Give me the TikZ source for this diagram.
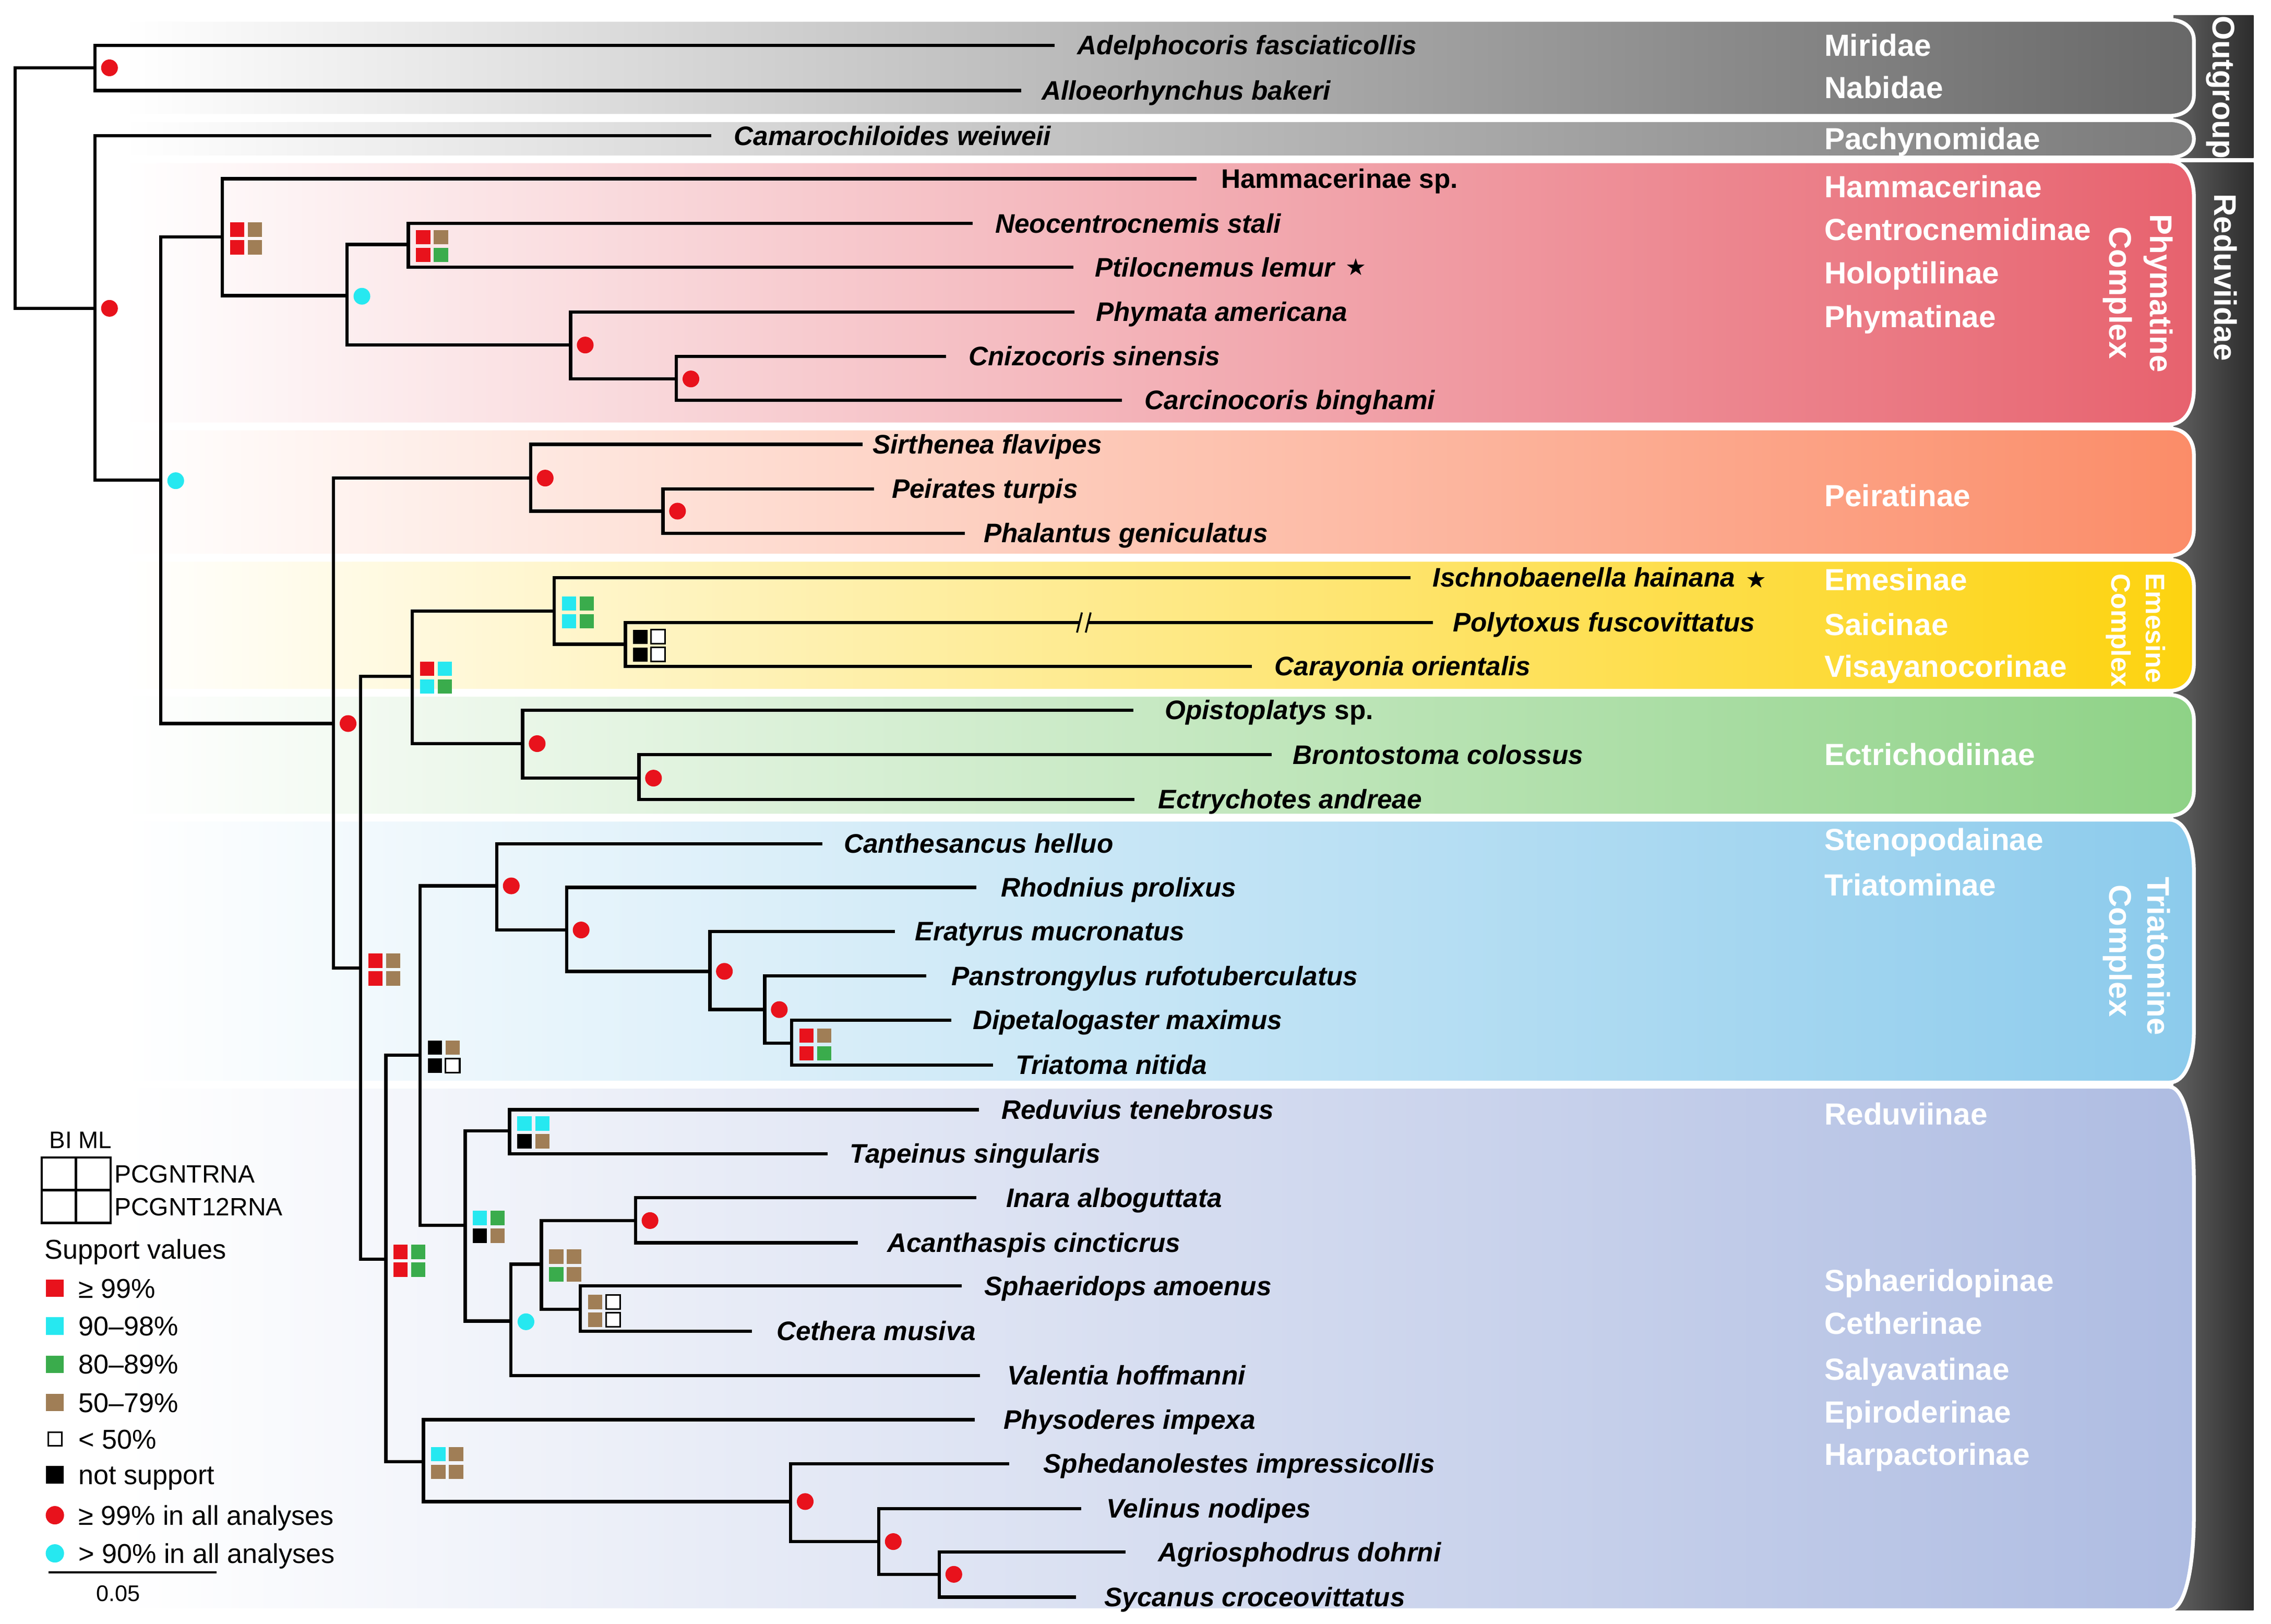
\documentclass[tikz,border=0pt]{standalone}
\usepackage{fontspec}
\setmainfont{Liberation Sans}
\newfontfamily\dejavu{DejaVu Sans}
\usetikzlibrary{calc}
\definecolor{sred}{RGB}{232,18,28}
\definecolor{scyan}{RGB}{38,232,240}
\definecolor{sgreen}{RGB}{58,172,76}
\definecolor{sbrown}{RGB}{160,126,86}
\definecolor{gOut}{RGB}{104,104,104}
\definecolor{gPac}{RGB}{122,122,122}
\definecolor{gPhy}{RGB}{231,98,110}
\definecolor{gPei}{RGB}{251,140,104}
\definecolor{gEme}{RGB}{253,211,15}
\definecolor{gEct}{RGB}{142,210,134}
\definecolor{gTri}{RGB}{140,203,236}
\definecolor{gRed}{RGB}{174,188,226}
\definecolor{barL}{RGB}{96,96,96}
\definecolor{barR}{RGB}{44,44,44}
\tikzset{
  brn/.style={line width=2.3pt, line join=miter, draw=black},
  taxon/.style={anchor=base west, inner sep=0pt, yshift=-6.4pt, font=\fontsize{18.4}{20}\selectfont\bfseries\itshape},
  taxup/.style={anchor=base west, inner sep=0pt, yshift=-6.4pt, font=\fontsize{18.4}{20}\selectfont\bfseries},
  grp/.style={anchor=base west, inner sep=0pt, yshift=-7.5pt, text=white, font=\fontsize{21}{24}\selectfont\bfseries},
  sidelab/.style={anchor=base, inner sep=0pt, rotate=-90, text=white, font=\fontsize{21.5}{24}\selectfont\bfseries},
  sidesmall/.style={sidelab, font=\fontsize{18.4}{20}\selectfont\bfseries},
  rdot/.style={circle, fill=sred, minimum size=11.5pt, inner sep=0pt},
  cdot/.style={circle, fill=scyan, minimum size=11.5pt, inner sep=0pt},
  starsym/.style={inner sep=0pt, font=\dejavu\fontsize{16}{16}\selectfont},
  legtxt/.style={anchor=base west, inner sep=0pt, yshift=-6.7pt, font=\fontsize{18.7}{20}\selectfont},
  legsm/.style={anchor=base west, inner sep=0pt, yshift=-6.1pt, font=\fontsize{17.2}{19}\selectfont},
  sR/.style={fill=sred}, sC/.style={fill=scyan}, sG/.style={fill=sgreen},
  sB/.style={fill=sbrown}, sK/.style={fill=black},
  sW/.style={fill=white, draw=black, line width=1.1pt},
}
\newcommand\band[4]{%
  \shadedraw[draw=white, line width=2.6pt, left color=white, right color=#4]
   (85,#1) -- (1490,#1) .. controls (1501,#1) and (1507,#1+0.45*#3) .. (1507,#1+#3)
   -- (1507,#2-#3) .. controls (1507,#2-0.45*#3) and (1501,#2) .. (1490,#2) -- (85,#2) -- cycle;
}
\newcommand\supp[5]{%
  \path[#2] ($(#1)+(5.3,-10)$) rectangle ++(9.8,9.8);
  \path[#3] ($(#1)+(17.5,-10)$) rectangle ++(9.8,9.8);
  \path[#4] ($(#1)+(5.3,2.2)$) rectangle ++(9.8,9.8);
  \path[#5] ($(#1)+(17.5,2.2)$) rectangle ++(9.8,9.8);
}
\begin{document}
\begin{tikzpicture}[x=1pt,y=-1pt]
\useasboundingbox (0,0) rectangle (1560,1115.5);
\fill[white] (0,0) rectangle (1560,1115.5);
% dark side bars
\shade[left color=barL, right color=barR] (1493,10.7) rectangle (1548,108.5);
\shade[left color=barL, right color=barR] (1493,111.7) rectangle (1548,1106);
% bands
\band{13.6}{79.6}{14}{gOut}
\band{82.5}{108.2}{12.8}{gPac}
\band{110.8}{291.5}{24}{gPhy}
\band{294.3}{381.7}{18}{gPei}
\band{384.5}{474.5}{18}{gEme}
\band{477.3}{560.3}{17}{gEct}
\band{563}{743.6}{35}{gTri}
\band{746.5}{1106}{65}{gRed}
% side labels
\node[sidelab] (sOut) at (1520,60) {Outgroup};
\node[sidelab] (sRed) at (1521,190.5) {Reduviidae};
\node[sidelab] (sPhy1) at (1477,201.5) {Phymatine};
\node[sidelab] (sPhy2) at (1449,201) {Complex};
\node[sidesmall] (sEme1) at (1474,431.5) {Emesine};
\node[sidesmall] (sEme2) at (1450.6,433) {Complex};
\node[sidelab] (sTri1) at (1475.3,656.8) {Triatomine};
\node[sidelab] (sTri2) at (1449,653) {Complex};
% group labels
\node[grp] (gMir) at (1253,31.1) {Miridae};
\node[grp] (gNab) at (1253,60.2) {Nabidae};
\node[grp] (gPa) at (1253,95.2) {Pachynomidae};
\node[grp] (gHam) at (1253,128.2) {Hammacerinae};
\node[grp] (gCen) at (1253,157.4) {Centrocnemidinae};
\node[grp] (gHol) at (1253,187.5) {Holoptilinae};
\node[grp] (gPhm) at (1253,217.6) {Phymatinae};
\node[grp] (gPe) at (1253,340.3) {Peiratinae};
\node[grp] (gEm) at (1253,398.2) {Emesinae};
\node[grp] (gSai) at (1253,428.8) {Saicinae};
\node[grp] (gVis) at (1253,457.6) {Visayanocorinae};
\node[grp] (gEc) at (1253,518) {Ectrichodiinae};
\node[grp] (gSte) at (1253,576.5) {Stenopodainae};
\node[grp] (gTr) at (1253,607.8) {Triatominae};
\node[grp] (gRe) at (1253,765.2) {Reduviinae};
\node[grp] (gSph) at (1253,879.5) {Sphaeridopinae};
\node[grp] (gCet) at (1253,908.8) {Cetherinae};
\node[grp] (gSal) at (1253,940.6) {Salyavatinae};
\node[grp] (gEpi) at (1253,969.8) {Epiroderinae};
\node[grp] (gHar) at (1253,999) {Harpactorinae};
% internal nodes
\coordinate (root) at (10.3,129);
\coordinate (Nout) at (65.2,46.6);
\coordinate (NA) at (65.2,211.8);
\coordinate (NRed) at (110.4,329.7);
\coordinate (NPhy) at (152.6,162.8);
\coordinate (Nb) at (238.3,203);
\coordinate (Nc) at (280.5,168);
\coordinate (Nd) at (392,237);
\coordinate (Ne) at (464.6,260.3);
\coordinate (Nf) at (229.1,497);
\coordinate (NPei) at (364.5,328.4);
\coordinate (Ng) at (455.4,351.1);
\coordinate (Nh) at (247.6,665);
\coordinate (Ni) at (283.2,464.5);
\coordinate (NEme) at (380.6,419.7);
\coordinate (Nj) at (429.6,442.5);
\coordinate (NEct) at (359,510.8);
\coordinate (Nk) at (438.9,534.5);
\coordinate (Nl) at (265,865);
\coordinate (Nm) at (288.5,724.8);
\coordinate (NTri) at (341.2,608.5);
\coordinate (Nn) at (389.2,638.8);
\coordinate (No) at (487.6,667.2);
\coordinate (Np) at (525.3,693.5);
\coordinate (Nq) at (543.8,716.5);
\coordinate (Nr) at (319.5,841.7);
\coordinate (NRd) at (350.1,776.8);
\coordinate (Ns) at (351,907.4);
\coordinate (Nt) at (371.9,868.3);
\coordinate (Nu) at (436.5,838.4);
\coordinate (Nv) at (398.7,899.4);
\coordinate (NHar) at (290.9,1004);
\coordinate (Nw) at (543.1,1031.4);
\coordinate (Nx) at (603.6,1058.9);
\coordinate (Ny) at (645.2,1081.4);
% tips
\coordinate (tAde) at (724.5,31.1);
\coordinate (tAll) at (701.6,62.2);
\coordinate (tCam) at (488.6,93.3);
\coordinate (tHam) at (822,122.8);
\coordinate (tNeo) at (668,153.5);
\coordinate (tPti) at (737.5,183.6);
\coordinate (tPhy) at (738.2,214.3);
\coordinate (tCni) at (650,244.8);
\coordinate (tCar) at (770.8,274.9);
\coordinate (tSir) at (592.5,305.2);
\coordinate (tPei) at (600.4,335.9);
\coordinate (tPha) at (662.8,366.3);
\coordinate (tIsc) at (969,396.8);
\coordinate (pb1) at (741.5,427.6);
\coordinate (pb2) at (747.5,427.6);
\coordinate (tPol) at (984.4,427.6);
\coordinate (tCay) at (860,457.7);
\coordinate (tOpi) at (778.7,487.8);
\coordinate (tBro) at (873.7,518.4);
\coordinate (tEct) at (779.4,549.2);
\coordinate (tCan) at (565,579.6);
\coordinate (tRho) at (670.6,609.6);
\coordinate (tEra) at (614.8,639.8);
\coordinate (tPan) at (636.4,670.4);
\coordinate (tDip) at (653.4,700.8);
\coordinate (tTri) at (682.3,731.6);
\coordinate (tRed) at (672.6,762.3);
\coordinate (tTap) at (568.4,792.5);
\coordinate (tIna) at (670.8,822.7);
\coordinate (tAca) at (589.2,853.7);
\coordinate (tSph) at (660.5,883.3);
\coordinate (tCet) at (516.5,914.4);
\coordinate (tVal) at (673.3,944.8);
\coordinate (tPhs) at (669.5,975.1);
\coordinate (tSpd) at (693.2,1005.4);
\coordinate (tVel) at (742.8,1036.3);
\coordinate (tAgr) at (773,1066.1);
\coordinate (tSyc) at (739.3,1097);
% branches
\foreach \a/\b in {root/Nout, root/NA, Nout/tAde, Nout/tAll, NA/tCam, NA/NRed,
  NRed/NPhy, NRed/Nf, NPhy/tHam, NPhy/Nb, Nb/Nc, Nb/Nd, Nc/tNeo, Nc/tPti,
  Nd/tPhy, Nd/Ne, Ne/tCni, Ne/tCar, Nf/NPei, Nf/Nh, NPei/tSir, NPei/Ng,
  Ng/tPei, Ng/tPha, Nh/Ni, Nh/Nl, Ni/NEme, Ni/NEct, NEme/tIsc, NEme/Nj,
  Nj/pb1, Nj/tCay, NEct/tOpi, NEct/Nk, Nk/tBro, Nk/tEct, Nl/Nm, Nl/NHar,
  Nm/NTri, Nm/Nr, NTri/tCan, NTri/Nn, Nn/tRho, Nn/No, No/tEra, No/Np,
  Np/tPan, Np/Nq, Nq/tDip, Nq/tTri, Nr/NRd, Nr/Ns, NRd/tRed, NRd/tTap,
  Ns/Nt, Ns/tVal, Nt/Nu, Nt/Nv, Nu/tIna, Nu/tAca, Nv/tSph, Nv/tCet,
  NHar/tPhs, NHar/Nw, Nw/tSpd, Nw/Nx, Nx/tVel, Nx/Ny, Ny/tAgr, Ny/tSyc}
  {\draw[brn] (\a) |- (\b);}
\draw[brn] (pb2) -- (tPol);
\coordinate (sl1a) at (739.8,434.5); \coordinate (sl1b) at (743.2,420.7);
\coordinate (sl2a) at (745.8,434.5); \coordinate (sl2b) at (749.2,420.7);
\draw[line width=1.3pt] (sl1a) -- (sl1b);
\draw[line width=1.3pt] (sl2a) -- (sl2b);
% support dots
\foreach \n in {Nout, NA, Nd, Ne, Nf, NPei, Ng, NEct, Nk, NTri, Nn, No, Np, Nu, Nw, Nx, Ny}
  {\node[rdot] (d\n) at ($(\n)+(10,0)$) {};}
\foreach \n in {NRed, Nb, Ns}
  {\node[cdot] (d\n) at ($(\n)+(10.3,0.5)$) {};}
% support squares
\supp{NPhy}{sR}{sB}{sR}{sB}
\supp{Nc}{sR}{sB}{sR}{sG}
\supp{Ni}{sR}{sC}{sC}{sG}
\supp{NEme}{sC}{sG}{sC}{sG}
\supp{Nj}{sK}{sW}{sK}{sW}
\supp{Nh}{sR}{sB}{sR}{sB}
\supp{Nm}{sK}{sB}{sK}{sW}
\supp{Nq}{sR}{sB}{sR}{sG}
\supp{Nl}{sR}{sG}{sR}{sG}
\supp{Nr}{sC}{sG}{sK}{sB}
\supp{NRd}{sC}{sC}{sK}{sB}
\supp{Nt}{sB}{sB}{sG}{sB}
\supp{Nv}{sB}{sW}{sB}{sW}
\supp{NHar}{sC}{sB}{sB}{sB}
% taxon labels
\node[taxon] (lAde) at (739.9,31.1) {Adelphocoris fasciaticollis};
\node[taxon] (lAll) at (715.3,62.2) {Alloeorhynchus bakeri};
\node[taxon] (lCam) at (504,93.3) {Camarochiloides weiweii};
\node[taxup] (lHam) at (838.7,122.8) {Hammacerinae sp.};
\node[taxon] (lNeo) at (683.4,153.5) {Neocentrocnemis stali};
\node[taxon] (lPti) at (752,183.6) {Ptilocnemus lemur};
\node[starsym] (sPti) at (931.3,183.2) {★};
\node[taxon] (lPhy) at (752.6,214.3) {Phymata americana};
\node[taxon] (lCni) at (665.2,244.8) {Cnizocoris sinensis};
\node[taxon] (lCar) at (786.2,274.9) {Carcinocoris binghami};
\node[taxon] (lSir) at (599.3,305.2) {Sirthenea flavipes};
\node[taxon] (lPei) at (612.4,335.9) {Peirates turpis};
\node[taxon] (lPha) at (675.5,366.3) {Phalantus geniculatus};
\node[taxon] (lIsc) at (984.1,396.8) {Ischnobaenella hainana};
\node[starsym] (sIsc) at (1206.3,398) {★};
\node[taxon] (lPol) at (997.8,427.6) {Polytoxus fuscovittatus};
\node[taxon] (lCay) at (875.4,457.7) {Carayonia orientalis};
\node[taxon] (lOpi) at (800,487.8) {Opistoplatys {\upshape sp.}};
\node[taxon] (lBro) at (888,518.4) {Brontostoma colossus};
\node[taxon] (lEct) at (795.5,549.2) {Ectrychotes andreae};
\node[taxon] (lCan) at (579.5,579.6) {Canthesancus helluo};
\node[taxon] (lRho) at (687.5,609.6) {Rhodnius prolixus};
\node[taxon] (lEra) at (628.5,639.8) {Eratyrus mucronatus};
\node[taxon] (lPan) at (653.4,670.4) {Panstrongylus rufotuberculatus};
\node[taxon] (lDip) at (668,700.8) {Dipetalogaster maximus};
\node[taxon] (lTri) at (697.4,731.6) {Triatoma nitida};
\node[taxon] (lRed) at (687.8,762.3) {Reduvius tenebrosus};
\node[taxon] (lTap) at (583.7,792.5) {Tapeinus singularis};
\node[taxon] (lIna) at (691,822.7) {Inara alboguttata};
\node[taxon] (lAca) at (609.3,853.7) {Acanthaspis cincticrus};
\node[taxon] (lSph) at (675.9,883.3) {Sphaeridops amoenus};
\node[taxon] (lCet) at (533.2,914.4) {Cethera musiva};
\node[taxon] (lVal) at (691.8,944.8) {Valentia hoffmanni};
\node[taxon] (lPhs) at (689.3,975.1) {Physoderes impexa};
\node[taxon] (lSpd) at (716.5,1005.4) {Sphedanolestes impressicollis};
\node[taxon] (lVel) at (759.9,1036.3) {Velinus nodipes};
\node[taxon] (lAgr) at (795.5,1066.1) {Agriosphodrus dohrni};
\node[taxon] (lSyc) at (758.5,1097) {Sycanus croceovittatus};
% legend
\node[anchor=base west, inner sep=0pt, yshift=-5.9pt, font=\fontsize{16.4}{18}\selectfont] (lBI) at (33.8,782.8) {BI ML};
\draw[line width=1.6pt] (28.6,795) rectangle (75.9,840);
\draw[line width=1.6pt] (52.2,795) -- (52.2,840) (28.6,817.5) -- (75.9,817.5);
\node[legsm] (lP1) at (78.4,806.4) {PCGNTRNA};
\node[legsm] (lP2) at (78.4,829) {PCGNT12RNA};
\node[legtxt] (lSV) at (30.4,858) {Support values};
\fill[sred] (31.5,878.8) rectangle (43.9,890.8);
\fill[scyan] (31.5,904.8) rectangle (43.9,916.8);
\fill[sgreen] (31.5,931.1) rectangle (43.9,943.1);
\fill[sbrown] (31.5,957.3) rectangle (43.9,969.3);
\filldraw[fill=white, draw=black, line width=1.1pt] (33.2,983.9) rectangle (42.4,993.1);
\fill[black] (31.5,1007) rectangle (43.9,1019);
\node[rdot, minimum size=12.6pt] (lgR) at (37.7,1040.8) {};
\node[cdot, minimum size=12.6pt] (lgC) at (37.7,1067) {};
\node[legtxt] (l99) at (53.7,884.8) {≥ 99\%};
\node[legtxt] (l90) at (53.7,910.8) {90–98\%};
\node[legtxt] (l80) at (53.7,937.1) {80–89\%};
\node[legtxt] (l50) at (53.7,963.3) {50–79\%};
\node[legtxt] (l49) at (53.7,988.6) {< 50\%};
\node[legtxt] (lns) at (53.7,1013) {not support};
\node[legtxt] (lall) at (53.7,1040.8) {≥ 99\% in all analyses};
\node[legtxt] (lall2) at (53.7,1067) {> 90\% in all analyses};
\coordinate (scA) at (33.2,1080); \coordinate (scB) at (148.6,1080);
\draw[line width=1.2pt] (scA) -- (scB);
\node[inner sep=0pt, font=\fontsize{15.5}{17}\selectfont] (lsc) at (81.1,1094.7) {0.05};
\end{tikzpicture}
\end{document}
